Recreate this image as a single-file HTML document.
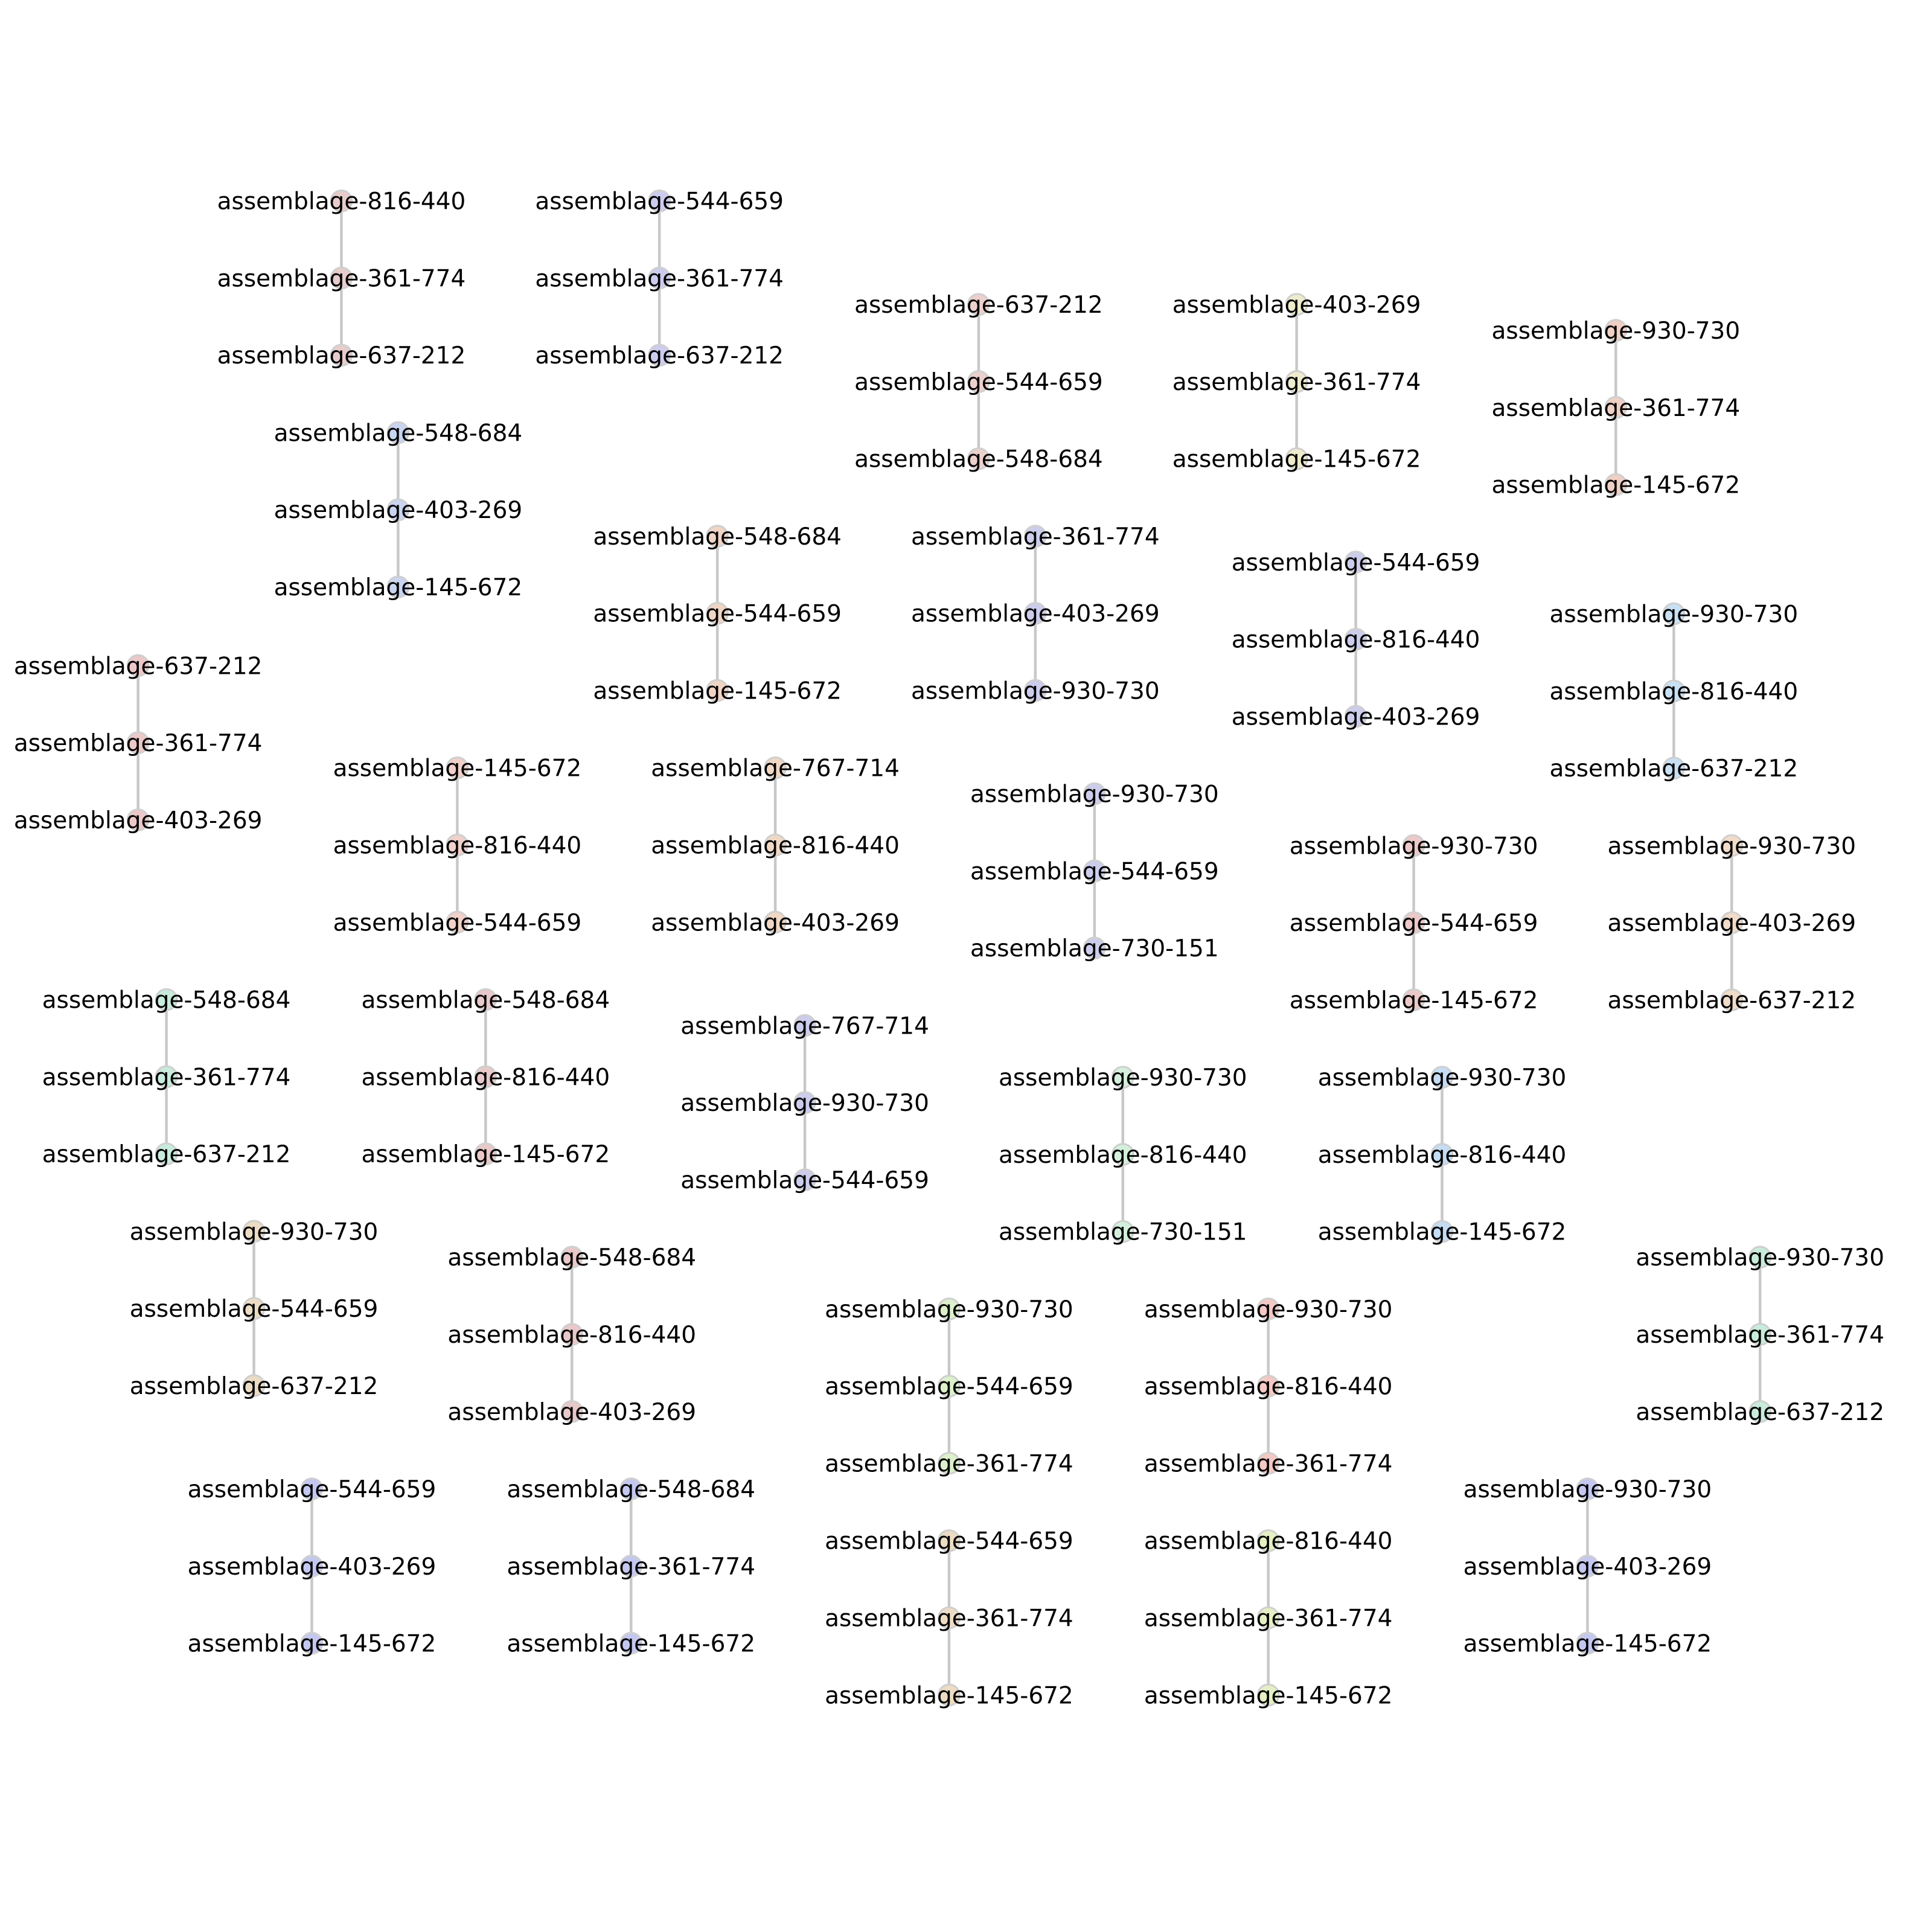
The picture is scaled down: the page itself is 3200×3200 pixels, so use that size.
<!DOCTYPE html>
<html><head><meta charset="utf-8"><style>
html,body{margin:0;padding:0;background:#fff;}
svg{display:block;}
text{font-family:"DejaVu Sans","Liberation Sans",sans-serif;font-size:19.1px;fill:#000;}
</style></head><body>
<svg id="chart" width="3200" height="3200" viewBox="0 0 1567.5 1567.5" xmlns="http://www.w3.org/2000/svg">
<g id="edges"></g>
<g id="nodes"></g>
<g id="labels"></g>
</svg>
<script>
const groupX = [277,535,794,1052,1311,323,582,840,1100,1358,112,371,629,888,1147,1405,135,394,653,911,1170,206,464,770,1029,1428,253,512,770,1029,1288];
const groupY = [163,163,247,247,268,351,435,435,456,498,540,623,623,644,686,686,811,811,832,874,874,999,1020,1062,1062,1020,1208,1208,1250,1250,1208];
const groupLabels = [
["816-440","361-774","637-212"],["544-659","361-774","637-212"],["637-212","544-659","548-684"],
["403-269","361-774","145-672"],["930-730","361-774","145-672"],["548-684","403-269","145-672"],
["548-684","544-659","145-672"],["361-774","403-269","930-730"],["544-659","816-440","403-269"],
["930-730","816-440","637-212"],["637-212","361-774","403-269"],["145-672","816-440","544-659"],
["767-714","816-440","403-269"],["930-730","544-659","730-151"],["930-730","544-659","145-672"],
["930-730","403-269","637-212"],["548-684","361-774","637-212"],["548-684","816-440","145-672"],
["767-714","930-730","544-659"],["930-730","816-440","730-151"],["930-730","816-440","145-672"],
["930-730","544-659","637-212"],["548-684","816-440","403-269"],["930-730","544-659","361-774"],
["930-730","816-440","361-774"],["930-730","361-774","637-212"],["544-659","403-269","145-672"],
["548-684","361-774","145-672"],["544-659","361-774","145-672"],["816-440","361-774","145-672"],
["930-730","403-269","145-672"]];
const groupColors = ["#e8cccc","#ccccee","#ecd0cc","#eeeccc","#f0d0c4","#c8d4f0","#f0d4c4","#ccccec","#ccccec","#c8e0f4","#ecc8c8","#f0d0c8","#f0d8c4","#ccccec","#ecc8c8","#f0dcc8","#c8ecdc","#e8c8c8","#ccccec","#d4f0dc","#c4dcf4","#ecdcc4","#e8c8c8","#dcf0cc","#f4c8c4","#c8ecdc","#c4c8f0","#c4c8f0","#ecdcc4","#e4f0c4","#c4c8f0"];
const step = 62.6;
const NS="http://www.w3.org/2000/svg";
const eg=document.getElementById('edges'), ng=document.getElementById('nodes'), lg=document.getElementById('labels');
groupX.forEach((x,gi)=>{
  const y0=groupY[gi]; const labs=groupLabels[gi];
  for(let i=0;i<labs.length-1;i++){
    const l=document.createElementNS(NS,'line');
    
    
    l.setAttribute('x1',x);l.setAttribute('x2',x);
    l.setAttribute('y1',y0+i*step);l.setAttribute('y2',y0+(i+1)*step);
    l.setAttribute('stroke','#c8c8c8');l.setAttribute('stroke-width','2.2');
    eg.appendChild(l);
  }
  labs.forEach((lab,i)=>{
    const y=y0+i*step;
    const c=document.createElementNS(NS,'circle');
    
    
    c.setAttribute('cx',x);c.setAttribute('cy',y);c.setAttribute('r','8.5');
    c.setAttribute('fill',groupColors[gi]);c.setAttribute('stroke','#cfcfcf');c.setAttribute('stroke-width','1.5');
    ng.appendChild(c);
    const t=document.createElementNS(NS,'text');
    
    
    t.setAttribute('x',x);t.setAttribute('y',y+6.8);t.setAttribute('text-anchor','middle');
    t.textContent='assemblage-'+lab;
    lg.appendChild(t);
  });
});
</script>
</body></html>
